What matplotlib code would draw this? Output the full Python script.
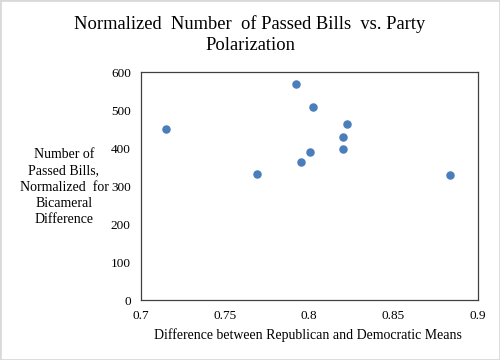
import matplotlib.pyplot as plt
from matplotlib.patches import Rectangle

# polarization vs normalized bill count
polarization = [0.715, 0.769, 0.792, 0.8025, 0.8223, 0.820, 0.820, 0.8005, 0.795, 0.8838]
passed_bills = [452, 332, 570, 510, 463, 431, 397, 389, 365, 329]

plt.rcParams['font.family'] = ['Liberation Serif', 'DejaVu Serif']

fig = plt.figure(figsize=(5, 3.6), dpi=100)
ax = fig.add_axes([0.281, 0.166, 0.674, 0.633])

ax.scatter(polarization, passed_bills, s=26, color='#4A7EBB', zorder=3)

ax.set_xlim(0.7, 0.9)
ax.set_ylim(0, 600)
ax.set_xticks([0.7, 0.75, 0.8, 0.85, 0.9])
ax.set_xticklabels(['0.7', '0.75', '0.8', '0.85', '0.9'])
ax.set_yticks(range(0, 601, 100))
ax.tick_params(length=0, labelsize=9.5, pad=7)
for s in ax.spines.values():
    s.set_color('#404040')
    s.set_linewidth(0.9)

fig.text(0.5, 0.905, 'Normalized  Number  of Passed Bills  vs. Party\nPolarization',
         ha='center', va='center', fontsize=13.3, linespacing=1.3)
fig.text(0.128, 0.48, 'Number of\nPassed Bills,\nNormalized  for\nBicameral\nDifference',
         ha='center', va='center', fontsize=10, linespacing=1.32)
fig.text(0.615, 0.069, 'Difference between Republican and Democratic Means',
         ha='center', va='center', fontsize=10)

fig.patches.append(Rectangle((0, 0), 1, 1, transform=fig.transFigure, fill=False,
                             edgecolor='#D9D9D9', linewidth=2))

fig.savefig('out.png', dpi=100)
